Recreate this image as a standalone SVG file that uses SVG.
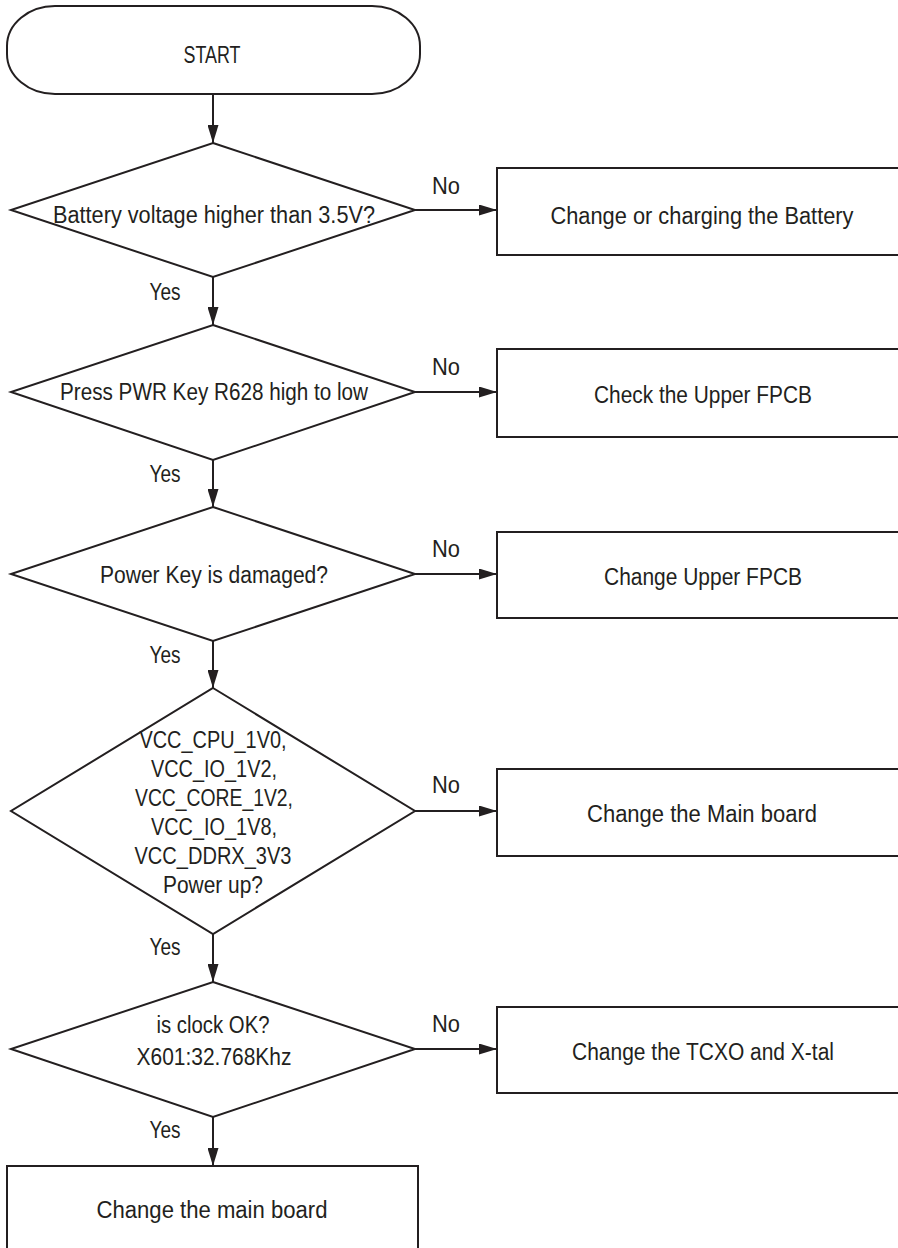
<svg xmlns="http://www.w3.org/2000/svg" width="898" height="1248" viewBox="0 0 898 1248">
  <style>
    .shape { fill: #ffffff; stroke: #231f20; stroke-width: 2; }
    .link { fill: none; stroke: #231f20; stroke-width: 2; }
    text { font-family: "Liberation Sans", Arial, sans-serif; font-size: 23.5px; fill: #231f20; text-anchor: middle; }
  </style>
  <defs>
    <marker id="arrow" viewBox="0 0 18 11" refX="18" refY="5.5" markerWidth="18" markerHeight="11" markerUnits="userSpaceOnUse" orient="auto">
      <path d="M0,0 L18,5.5 L0,11 Z" fill="#231f20"/>
    </marker>
  </defs>
  <rect width="898" height="1248" fill="#ffffff"/>

  <!-- connectors -->
  <g id="connectors">
    <line class="link" x1="213" y1="94" x2="213" y2="143" marker-end="url(#arrow)"/>
    <line class="link" x1="213" y1="277" x2="213" y2="325" marker-end="url(#arrow)"/>
    <line class="link" x1="213" y1="460" x2="213" y2="507" marker-end="url(#arrow)"/>
    <line class="link" x1="213" y1="641" x2="213" y2="688" marker-end="url(#arrow)"/>
    <line class="link" x1="213" y1="934" x2="213" y2="982" marker-end="url(#arrow)"/>
    <line class="link" x1="213" y1="1117" x2="213" y2="1166" marker-end="url(#arrow)"/>
    <line class="link" x1="415" y1="210" x2="497" y2="210" marker-end="url(#arrow)"/>
    <line class="link" x1="415" y1="392" x2="497" y2="392" marker-end="url(#arrow)"/>
    <line class="link" x1="415" y1="574" x2="497" y2="574" marker-end="url(#arrow)"/>
    <line class="link" x1="415" y1="811" x2="497" y2="811" marker-end="url(#arrow)"/>
    <line class="link" x1="415" y1="1049" x2="497" y2="1049" marker-end="url(#arrow)"/>
    <text x="446" y="194" textLength="28" lengthAdjust="spacingAndGlyphs">No</text>
    <text x="446" y="375" textLength="28" lengthAdjust="spacingAndGlyphs">No</text>
    <text x="446" y="557" textLength="28" lengthAdjust="spacingAndGlyphs">No</text>
    <text x="446" y="793" textLength="28" lengthAdjust="spacingAndGlyphs">No</text>
    <text x="446" y="1032" textLength="28" lengthAdjust="spacingAndGlyphs">No</text>
    <text x="165" y="300" textLength="31" lengthAdjust="spacingAndGlyphs">Yes</text>
    <text x="165" y="482" textLength="31" lengthAdjust="spacingAndGlyphs">Yes</text>
    <text x="165" y="663" textLength="31" lengthAdjust="spacingAndGlyphs">Yes</text>
    <text x="165" y="955" textLength="31" lengthAdjust="spacingAndGlyphs">Yes</text>
    <text x="165" y="1138" textLength="31" lengthAdjust="spacingAndGlyphs">Yes</text>
  </g>

  <!-- start terminal -->
  <g id="start">
    <rect class="shape" x="7" y="6" width="413" height="88" rx="48" ry="40"/>
    <text x="212" y="63" textLength="57" lengthAdjust="spacingAndGlyphs">START</text>
  </g>

  <!-- decisions -->
  <g id="check-battery">
    <polygon class="shape" points="213,143 415,210 213,277 11,210"/>
    <text x="214" y="223" textLength="322" lengthAdjust="spacingAndGlyphs">Battery voltage higher than 3.5V?</text>
  </g>
  <g id="check-pwr-key">
    <polygon class="shape" points="213,325 415,392 213,460 11,392"/>
    <text x="214" y="400" textLength="308" lengthAdjust="spacingAndGlyphs">Press PWR Key R628 high to low</text>
  </g>
  <g id="check-key-damage">
    <polygon class="shape" points="213,507 415,574 213,641 11,574"/>
    <text x="214" y="583" textLength="228" lengthAdjust="spacingAndGlyphs">Power Key is damaged?</text>
  </g>
  <g id="check-power-rails">
    <polygon class="shape" points="213,688 415,811 213,934 11,811"/>
    <text x="213" y="748" textLength="147" lengthAdjust="spacingAndGlyphs">VCC_CPU_1V0,</text>
    <text x="214" y="777" textLength="126" lengthAdjust="spacingAndGlyphs">VCC_IO_1V2,</text>
    <text x="214" y="806" textLength="158" lengthAdjust="spacingAndGlyphs">VCC_CORE_1V2,</text>
    <text x="214" y="835" textLength="126" lengthAdjust="spacingAndGlyphs">VCC_IO_1V8,</text>
    <text x="213" y="864" textLength="157" lengthAdjust="spacingAndGlyphs">VCC_DDRX_3V3</text>
    <text x="213" y="893" textLength="100" lengthAdjust="spacingAndGlyphs">Power up?</text>
  </g>
  <g id="check-clock">
    <polygon class="shape" points="213,982 415,1049 213,1117 11,1049"/>
    <text x="213" y="1033" textLength="113" lengthAdjust="spacingAndGlyphs">is clock OK?</text>
    <text x="214" y="1065" textLength="155" lengthAdjust="spacingAndGlyphs">X601:32.768Khz</text>
  </g>

  <!-- actions -->
  <g id="fix-battery">
    <rect class="shape" x="497" y="168" width="412" height="87"/>
    <text x="702" y="224" textLength="303" lengthAdjust="spacingAndGlyphs">Change or charging the Battery</text>
  </g>
  <g id="fix-upper-fpcb-check">
    <rect class="shape" x="497" y="349" width="412" height="88"/>
    <text x="703" y="403" textLength="218" lengthAdjust="spacingAndGlyphs">Check the Upper FPCB</text>
  </g>
  <g id="fix-upper-fpcb">
    <rect class="shape" x="497" y="532" width="412" height="86"/>
    <text x="703" y="585" textLength="198" lengthAdjust="spacingAndGlyphs">Change Upper FPCB</text>
  </g>
  <g id="fix-main-board-power">
    <rect class="shape" x="497" y="769" width="412" height="87"/>
    <text x="702" y="822" textLength="230" lengthAdjust="spacingAndGlyphs">Change the Main board</text>
  </g>
  <g id="fix-clock">
    <rect class="shape" x="497" y="1007" width="412" height="86"/>
    <text x="703" y="1060" textLength="262" lengthAdjust="spacingAndGlyphs">Change the TCXO and X-tal</text>
  </g>
  <g id="fix-main-board">
    <rect class="shape" x="7" y="1166" width="411" height="100"/>
    <text x="212" y="1218" textLength="231" lengthAdjust="spacingAndGlyphs">Change the main board</text>
  </g>
</svg>
